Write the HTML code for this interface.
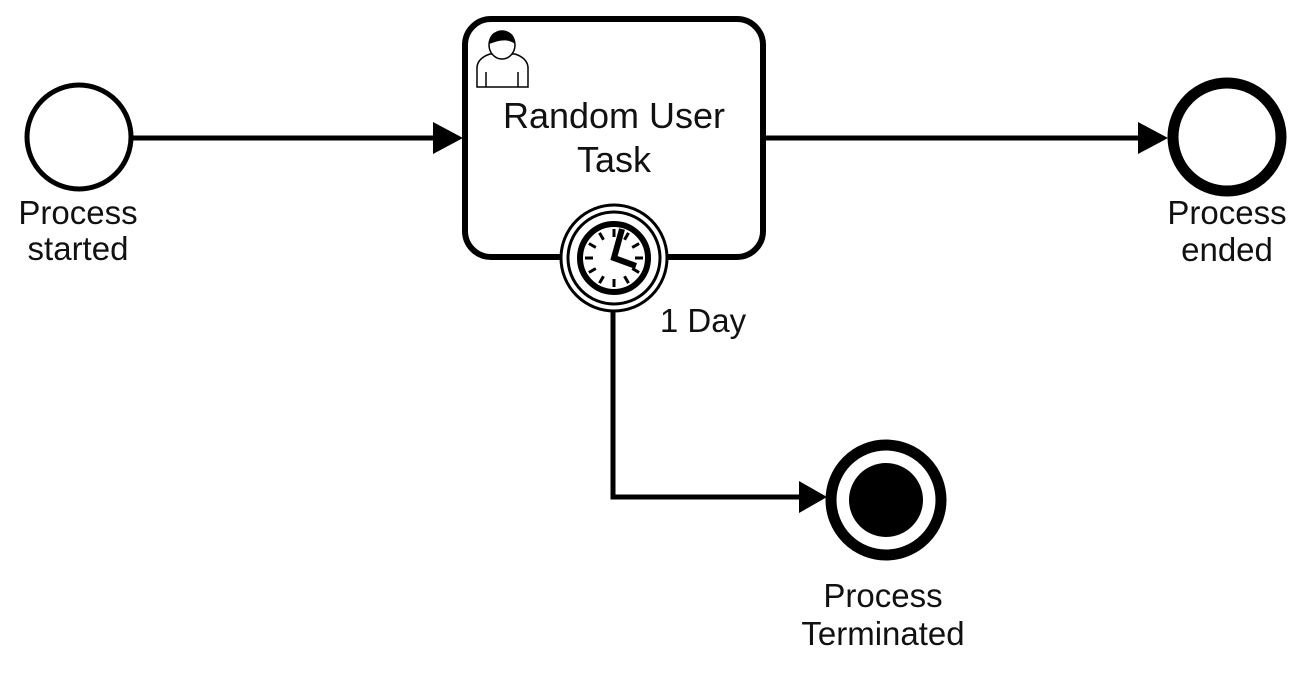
<!DOCTYPE html>
<html><head><meta charset="utf-8"><style>
html,body{margin:0;padding:0;background:#fff;}
svg{display:block}
text{font-family:"Liberation Sans",Arial,sans-serif;font-size:33px;fill:#111;text-anchor:middle}
</style></head><body>
<svg width="1305" height="675" viewBox="0 0 1305 675" xmlns="http://www.w3.org/2000/svg" font-family="Liberation Sans, Arial, sans-serif">
<rect width="1305" height="675" fill="#fff"/>
<line x1="132" y1="138" x2="440" y2="138" stroke="#000" stroke-width="5"/>
<polygon points="463,138 433,122 433,154" fill="#000"/>
<line x1="765" y1="138" x2="1145" y2="138" stroke="#000" stroke-width="5"/>
<polygon points="1168,138 1138,122 1138,154" fill="#000"/>
<polyline points="613,310 613,497 805,497" fill="none" stroke="#000" stroke-width="5"/>
<polygon points="827,497 799,481 799,513" fill="#000"/>
<circle cx="79" cy="137" r="52" fill="#fff" stroke="#000" stroke-width="5"/>
<text x="78" y="224">Process</text>
<text x="78" y="260">started</text>
<rect x="465" y="19" width="298" height="238" rx="26" fill="#fff" stroke="#000" stroke-width="6"/>
<g fill="#fff" stroke="#000" stroke-width="1.5">
<path d="M477,87 L477,67 Q478,58 490,54 L515,54 Q527,58 528,67 L528,87 Z"/>
<line x1="486" y1="87" x2="486" y2="72"/><line x1="518" y1="87" x2="518" y2="72"/>
<ellipse cx="502" cy="45" rx="13" ry="14"/>
</g>
<path d="M489,44 Q489,31 502,31 Q515,31 515,44 Q508,38 495,42 Z" fill="#000"/>
<text x="614" y="128" style="font-size:36px">Random User</text>
<text x="614" y="172" style="font-size:36px">Task</text>
<circle cx="614" cy="258" r="53" fill="#fff" stroke="#000" stroke-width="3"/>
<circle cx="614" cy="258" r="46" fill="#fff" stroke="#000" stroke-width="3"/>
<circle cx="614" cy="258" r="34" fill="#fff" stroke="#000" stroke-width="6"/>
<g stroke="#000" stroke-width="3" transform="translate(614,258)">
<line x1="0" y1="-29" x2="0" y2="-21"/><line x1="0" y1="21" x2="0" y2="29"/>
<line x1="-29" y1="0" x2="-21" y2="0"/><line x1="21" y1="0" x2="29" y2="0"/>
<line x1="-14.5" y1="-25.1" x2="-10.5" y2="-18.2"/><line x1="14.5" y1="-25.1" x2="10.5" y2="-18.2"/>
<line x1="-14.5" y1="25.1" x2="-10.5" y2="18.2"/><line x1="14.5" y1="25.1" x2="10.5" y2="18.2"/>
<line x1="-25.1" y1="-14.5" x2="-18.2" y2="-10.5"/><line x1="25.1" y1="-14.5" x2="18.2" y2="-10.5"/>
<line x1="-25.1" y1="14.5" x2="-18.2" y2="10.5"/><line x1="25.1" y1="14.5" x2="18.2" y2="10.5"/>
</g>
<polyline points="622,229 614,258 636,266" fill="none" stroke="#000" stroke-width="6"/>
<text x="703" y="332">1 Day</text>
<circle cx="1227" cy="137" r="54" fill="#fff" stroke="#000" stroke-width="11"/>
<text x="1227" y="224">Process</text>
<text x="1227" y="261">ended</text>
<circle cx="886" cy="500" r="55" fill="#fff" stroke="#000" stroke-width="11"/>
<circle cx="886" cy="500" r="37" fill="#000"/>
<text x="883" y="607">Process</text>
<text x="883" y="645">Terminated</text>
</svg>
</body></html>
